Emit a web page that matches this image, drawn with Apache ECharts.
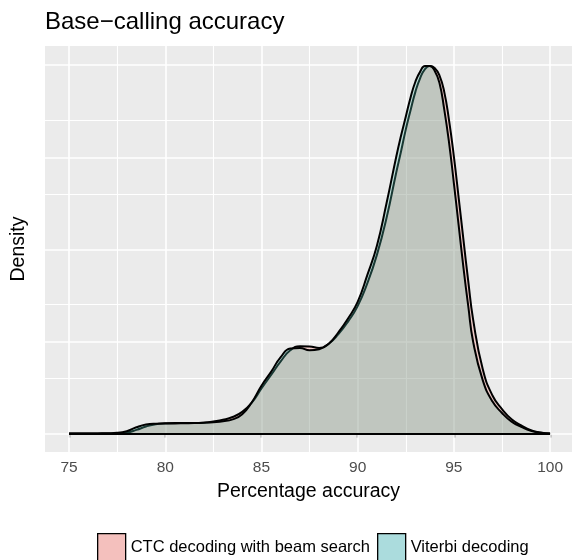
<!DOCTYPE html>
<html><head><meta charset="utf-8">
<script src="https://cdn.jsdelivr.net/npm/echarts@6/dist/echarts.min.js"></script>
<style>html,body{margin:0;padding:0;background:#fff}#chart{width:572px;height:560px}</style>
</head><body><div id="chart"></div>
<script>
const titleText = 'Base\u2212calling accuracy';
const xTitle = 'Percentage accuracy';
const yTitle = 'Density';
const seriesNames = ['CTC decoding with beam search', 'Viterbi decoding'];

const xValues = [75, 75.5, 76, 76.5, 77, 77.5, 78, 78.5, 79, 79.5, 80, 80.5, 81, 81.5, 82, 82.5, 83, 83.5, 84, 84.5,
  85, 85.5, 86, 86.5, 87, 87.5, 88, 88.5, 89, 89.5, 90, 90.5, 91, 91.5, 92,
  92.25, 92.5, 92.75, 93, 93.25, 93.5, 93.75, 94, 94.25, 94.5, 94.75, 95, 95.25, 95.5, 95.75, 96,
  96.5, 97, 97.5, 98, 98.5, 99, 99.5, 100];

const ctcDensity = [0, 0, 0, 0.0001, 0.0001, 0.0002, 0.0006, 0.0020, 0.0038, 0.0051, 0.0056, 0.0058, 0.0058, 0.0057, 0.0059, 0.0066, 0.0075, 0.0090, 0.0118, 0.0168,
  0.0245, 0.0318, 0.0392, 0.0452, 0.0474, 0.0473, 0.0464, 0.0488, 0.0540, 0.0608, 0.0692, 0.0815, 0.0970, 0.1170, 0.1415,
  0.1530, 0.1650, 0.1755, 0.1855, 0.1930, 0.1978, 0.1995, 0.1985, 0.1945, 0.1855, 0.1700, 0.1505, 0.1280, 0.1050, 0.0825, 0.0620,
  0.0350, 0.0208, 0.0133, 0.0078, 0.0045, 0.0019, 0.0006, 0.0001];

const viterbiDensity = [0, 0, 0, 0.0001, 0.0002, 0.0004, 0.0013, 0.0034, 0.0049, 0.0054, 0.0055, 0.0055, 0.0056, 0.0057, 0.0059, 0.0062, 0.0067, 0.0077, 0.0105, 0.0170,
  0.0260, 0.0335, 0.0415, 0.0462, 0.0465, 0.0452, 0.0458, 0.0488, 0.0550, 0.0625, 0.0715, 0.0860, 0.1020, 0.1250, 0.1500,
  0.1615, 0.1720, 0.1825, 0.1910, 0.1965, 0.1995, 0.1995, 0.1970, 0.1905, 0.1760, 0.1580, 0.1360, 0.1130, 0.0900, 0.0690, 0.0500,
  0.0290, 0.0175, 0.0112, 0.0065, 0.0037, 0.0015, 0.0005, 0.0001];

const xTickLabels = [75, 80, 85, 90, 95, 100];
const xMinorLines = [77.5, 82.5, 87.5, 92.5, 97.5];
const yMajorLines = [0, 0.05, 0.1, 0.15, 0.2];
const yMinorLines = [0.025, 0.075, 0.125, 0.175];

const FONT = "'Liberation Sans', Arial, Helvetica, sans-serif";
const chart = echarts.init(document.getElementById('chart'), null, {renderer: 'canvas'});

const gridLineData = []
  .concat(xTickLabels.map(v => ({xAxis: v, lineStyle: {color: '#fff', width: 1.6, type: 'solid'}})))
  .concat(xMinorLines.map(v => ({xAxis: v, lineStyle: {color: '#fff', width: 1.1, type: 'solid'}})))
  .concat(yMajorLines.map(v => ({yAxis: v, lineStyle: {color: '#fff', width: 1.6, type: 'solid'}})))
  .concat(yMinorLines.map(v => ({yAxis: v, lineStyle: {color: '#fff', width: 1.1, type: 'solid'}})));

function pairs(ys) { return xValues.map((x, i) => [x, ys[i]]); }

const option = {
  animation: false,
  backgroundColor: '#fff',
  textStyle: {fontFamily: FONT},
  title: {
    text: titleText, left: 45, top: 10, padding: 0,
    textStyle: {fontSize: 24, fontWeight: 'normal', color: '#000', fontFamily: FONT}
  },
  grid: {left: 45, right: 0, top: 46, bottom: 108, show: true, backgroundColor: '#EBEBEB', borderWidth: 0, containLabel: false},
  legend: {
    left: 97, top: 533, padding: 0, itemWidth: 28, itemHeight: 28, itemGap: 7, icon: 'rect',
    textStyle: {fontSize: 16.5, color: '#000', fontFamily: FONT},
    data: [
      {name: seriesNames[0], itemStyle: {color: '#F4C0BD', borderColor: '#000', borderWidth: 1.3}},
      {name: seriesNames[1], itemStyle: {color: '#ABDCDD', borderColor: '#000', borderWidth: 1.3}}
    ]
  },
  xAxis: {
    type: 'value', min: 73.75, max: 101.14,
    axisLine: {show: false}, splitLine: {show: false},
    axisTick: {show: true, customValues: xTickLabels, length: 4, lineStyle: {color: '#333', width: 1.4}},
    axisLabel: {customValues: xTickLabels, color: '#4D4D4D', fontSize: 15.5, margin: 8, fontFamily: FONT},
    name: xTitle, nameLocation: 'middle', nameGap: 30,
    nameTextStyle: {fontSize: 19.5, color: '#000', fontFamily: FONT}
  },
  yAxis: {
    type: 'value', min: -0.01, max: 0.2104,
    axisLine: {show: false}, axisTick: {show: false}, axisLabel: {show: false}, splitLine: {show: false},
    name: yTitle, nameLocation: 'middle', nameGap: 16, nameRotate: 90,
    nameTextStyle: {fontSize: 19.5, color: '#000', fontFamily: FONT}
  },
  series: [
    {
      name: seriesNames[0], type: 'line', data: pairs(ctcDensity), z: 2, silent: true,
      smooth: 0.5, showSymbol: false, symbol: 'none',
      lineStyle: {color: '#000', width: 2},
      itemStyle: {color: '#F4C0BD'},
      areaStyle: {color: 'rgba(248,118,109,0.4)', origin: 0},
      markLine: {z: 1, silent: true, symbol: ['none', 'none'], label: {show: false}, animation: false, data: gridLineData}
    },
    {
      name: seriesNames[1], type: 'line', data: pairs(viterbiDensity), z: 3, silent: true,
      smooth: 0.5, showSymbol: false, symbol: 'none',
      lineStyle: {color: '#000', width: 2},
      itemStyle: {color: '#ABDCDD'},
      areaStyle: {color: 'rgba(80,190,175,0.42)', origin: 0},
      markLine: {silent: true, symbol: ['none', 'none'], label: {show: false}, animation: false,
        data: [[{coord: [xValues[0], 0]}, {coord: [xValues[xValues.length - 1], 0]}]],
        lineStyle: {color: '#000', width: 2, type: 'solid'}}
    }
  ]
};
chart.setOption(option);
</script></body></html>
